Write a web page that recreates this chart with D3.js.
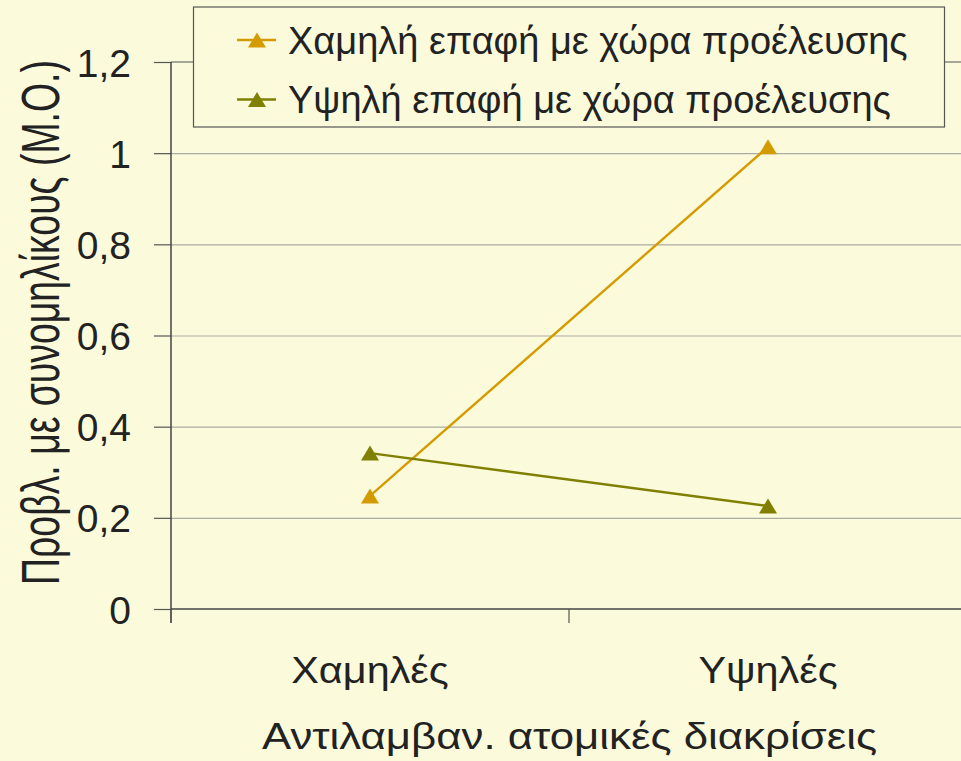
<!DOCTYPE html>
<html><head><meta charset="utf-8">
<script src="https://cdn.jsdelivr.net/npm/d3@7"></script>
<style>
html,body{margin:0;padding:0;background:#FBFBDC;}
svg{display:block;}
text{font-family:"Liberation Sans",Arial,sans-serif;fill:#222;}
</style></head><body>
<script>
const categories = ["Χαμηλές", "Υψηλές"];
const seriesNames = ["Χαμηλή επαφή με χώρα προέλευσης", "Υψηλή επαφή με χώρα προέλευσης"];
const lowContact = [0.248, 1.014];
const highContact = [0.342, 0.226];
const yTicks = [0, 0.2, 0.4, 0.6, 0.8, 1, 1.2];
const yTitle = "Προβλ. με συνομηλίκους (Μ.Ο.)";
const xTitle = "Αντιλαμβαν. ατομικές διακρίσεις";
const colors = ["#D49B00", "#7F8000"];

(function () {
const W = 961, H = 761;
const svg = d3.select("body").append("svg").attr("width", W).attr("height", H);
svg.append("rect").attr("width", W).attr("height", H).attr("fill", "#FBFBDC");

const pL = 171, pT = 62, pB = 609, pR = 967;
const x = d3.scaleBand().domain(categories).range([pL, pR]).padding(0);
const y = d3.scaleLinear().domain([0, 1.2]).range([pB, pT]);
const fmt = d => d3.format("~g")(d).replace(".", ",");

// gridlines
const grid = svg.append("g").attr("transform", `translate(${pL},0)`)
  .call(d3.axisLeft(y).tickValues(yTicks.slice(1, -1)).tickSize(-(pR - pL)).tickFormat(""));
grid.select(".domain").remove();
grid.selectAll("line").attr("stroke", "#ABABA2").attr("stroke-width", 1.2);

// plot top border
svg.append("line").attr("x1", pL).attr("x2", pR).attr("y1", y(1.2)).attr("y2", y(1.2))
  .attr("stroke", "#555").attr("stroke-width", 1.2);

// y axis
const ya = svg.append("g").attr("transform", `translate(${pL},0)`)
  .call(d3.axisLeft(y).tickValues(yTicks).tickSize(17).tickPadding(23).tickFormat(fmt));
ya.select(".domain").remove();
ya.selectAll("line").attr("stroke", "#555").attr("stroke-width", 1.2);
ya.selectAll("text").attr("font-size", 39).attr("fill", "#222").attr("dy", "0.36em");
svg.append("line").attr("x1", pL).attr("x2", pL).attr("y1", pT).attr("y2", pB + 14)
  .attr("stroke", "#444").attr("stroke-width", 1.5);

// x axis
const xa = svg.append("g").attr("transform", `translate(0,${pB})`)
  .call(d3.axisBottom(x).tickSize(0).tickPadding(0));
xa.select(".domain").remove();
xa.selectAll("text").attr("font-size", 36).attr("fill", "#222").attr("dy", null).attr("y", 74);
xa.selectAll("text").each(function () {
  const L = this.getComputedTextLength();
  d3.select(this).attr("textLength", L * 1.15).attr("lengthAdjust", "spacingAndGlyphs");
});
svg.append("line").attr("x1", pL).attr("x2", pR).attr("y1", pB).attr("y2", pB)
  .attr("stroke", "#444").attr("stroke-width", 1.5);
// category boundary ticks
const bounds = [x.range()[0], x(categories[1])];
svg.selectAll(".bt").data(bounds).enter().append("line")
  .attr("x1", d => d).attr("x2", d => d).attr("y1", pB).attr("y2", pB + 14)
  .attr("stroke", "#555").attr("stroke-width", 1.2);

// series
const tri = "M0,-7.5L9,7.5L-9,7.5Z";
[lowContact, highContact].forEach((vals, i) => {
  const pts = vals.map((v, j) => [x(categories[j]) + x.bandwidth() / 2, y(v)]);
  svg.append("path").attr("d", d3.line()(pts)).attr("fill", "none")
    .attr("stroke", colors[i]).attr("stroke-width", 2.4);
  svg.selectAll(".m" + i).data(pts).enter().append("path")
    .attr("d", tri).attr("transform", d => `translate(${d[0]},${d[1]})`)
    .attr("fill", colors[i]);
});

// axis titles
const xt = svg.append("text").attr("x", 569.5).attr("y", 749).attr("text-anchor", "middle")
  .attr("font-size", 36).text(xTitle);
xt.attr("textLength", 615).attr("lengthAdjust", "spacingAndGlyphs");
const yt = svg.append("text").attr("text-anchor", "middle").attr("font-size", 38).text(yTitle);
const yl = yt.node().getComputedTextLength();
yt.attr("transform", `translate(59,322.5) rotate(-90) scale(${525 / yl},${53 / 38})`);

// legend
const lg = svg.append("g");
lg.append("rect").attr("x", 193.5).attr("y", 7).attr("width", 751).attr("height", 120)
  .attr("fill", "#FBFBDC").attr("stroke", "#555").attr("stroke-width", 1.2);
seriesNames.forEach((s, i) => {
  const cy = 40 + i * 59.5;
  lg.append("line").attr("x1", 237).attr("x2", 276).attr("y1", cy).attr("y2", cy)
    .attr("stroke", colors[i]).attr("stroke-width", 2.4);
  lg.append("path").attr("d", tri).attr("transform", `translate(257,${cy})`).attr("fill", colors[i]);
  lg.append("text").attr("x", 288).attr("y", 54 + i * 59)
    .attr("font-size", 38).text(s);
});
})();
</script>
</body></html>
